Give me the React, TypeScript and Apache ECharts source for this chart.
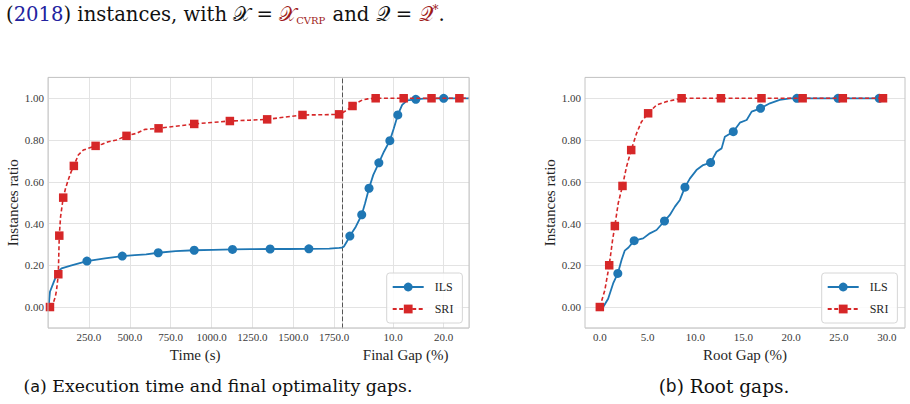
import React, { useEffect, useRef } from "react";
import * as echarts from "echarts";

// Each point: [x, ratio, marker?]  (marker = 1 draws the symbol at that point)

// Left panel, time segment (seconds)
const ilsTime: number[][] = [
  [4, 0.0], [8, 0.04], [12, 0.073], [32, 0.113], [52, 0.153], [62, 0.17], [83, 0.185],
  [144, 0.2], [238, 0.22, 1], [348, 0.233], [454, 0.244, 1], [531, 0.249], [600, 0.252],
  [674, 0.26, 1], [780, 0.268], [894, 0.272, 1], [1010, 0.274], [1128, 0.276, 1],
  [1240, 0.277], [1358, 0.278, 1], [1470, 0.278], [1595, 0.279, 1], [1720, 0.28],
  [1780, 0.283], [1800, 0.285],
];
const sriTime: number[][] = [
  [12, 0.0, 1], [32, 0.018], [45, 0.05], [52, 0.08], [58, 0.12], [63, 0.157, 1], [66, 0.25],
  [69, 0.342, 1], [77, 0.433], [93, 0.524, 1], [108, 0.57], [124, 0.61], [140, 0.645],
  [158, 0.676, 1], [185, 0.728], [216, 0.752], [291, 0.772, 1], [330, 0.78], [369, 0.792],
  [419, 0.8], [480, 0.82, 1], [541, 0.832], [592, 0.851], [676, 0.856, 1], [780, 0.866],
  [894, 0.877, 1], [1000, 0.884], [1112, 0.891, 1], [1230, 0.895], [1340, 0.899, 1],
  [1450, 0.91], [1556, 0.92, 1], [1680, 0.921], [1780, 0.923, 1], [1800, 0.93],
];

// Left panel, final gap segment (%)
const ilsFinal: number[][] = [
  [0, 0.285], [0.3, 0.29], [0.8, 0.31], [1.47, 0.34, 1], [2.65, 0.385], [3.82, 0.442, 1],
  [4.48, 0.497], [5.26, 0.569, 1], [6.1, 0.633], [7.2, 0.691, 1], [8.2, 0.744],
  [9.37, 0.797, 1], [10.16, 0.856], [10.94, 0.92, 1], [11.8, 0.968], [12.8, 0.99],
  [14.5, 0.995, 1], [16, 0.998], [20, 1.0, 1], [25, 1.0],
];
const sriFinal: number[][] = [
  [0, 0.93], [1.0, 0.945], [2.0, 0.963, 1], [3.0, 0.98], [3.96, 0.992], [5.0, 0.997],
  [6.57, 1.0, 1], [12.1, 1.0, 1], [17.6, 1.0, 1], [23.1, 1.0, 1], [25, 1.0],
];

// Right panel, root gap (%)
const ilsRoot: number[][] = [
  [0.35, 0.0], [0.87, 0.04], [1.39, 0.113], [1.88, 0.161, 1], [2.27, 0.225], [2.6, 0.27],
  [3.0, 0.285], [3.59, 0.318, 1], [4.53, 0.329], [5.23, 0.353], [5.93, 0.369],
  [6.76, 0.412, 1], [7.32, 0.441], [7.85, 0.481], [8.37, 0.513], [8.9, 0.574, 1],
  [9.41, 0.615], [10.1, 0.656], [10.8, 0.68], [11.58, 0.692, 1], [12.2, 0.744],
  [12.73, 0.76], [13.07, 0.816], [13.95, 0.84, 1], [14.64, 0.883], [15.35, 0.896],
  [15.87, 0.936], [16.8, 0.952, 1], [17.78, 0.976], [18.8, 0.992], [19.9, 1.0],
  [20.6, 1.0, 1], [24.9, 1.0, 1], [29.2, 1.0, 1], [29.8, 1.0],
];
const sriRoot: number[][] = [
  [0, 0.0, 1], [0.52, 0.08], [0.98, 0.2, 1], [1.33, 0.32], [1.57, 0.388, 1], [1.92, 0.497],
  [2.37, 0.58, 1], [2.79, 0.672], [3.28, 0.752, 1], [3.84, 0.832], [4.36, 0.888],
  [5.05, 0.928, 1], [5.93, 0.968], [6.97, 0.984], [8.55, 1.0, 1], [12.66, 1.0, 1],
  [16.9, 1.0, 1], [21.2, 1.0, 1], [25.4, 1.0, 1], [29.6, 1.0, 1], [29.8, 1.0],
];

const seriesNames = ["ILS", "SRI"];

const SERIF = "Liberation Serif";
const WIDE_SERIF = "DejaVu Serif";
const SANS = "DejaVu Sans";
const BLUE = "#1f77b4";
const RED = "#d62728";
const GRID_LINE = "#e3e3e3";
const FRAME = "#c4c4c4";
const TEXT = "#262626";

const toData = (pts: number[][]) =>
  pts.map(([x, y, m]) => (m ? [x, y] : { value: [x, y], symbol: "none" }));

const ilsStyle = (xi: number, yi: number, pts: number[][]) => ({
  name: "ILS",
  type: "line",
  xAxisIndex: xi,
  yAxisIndex: yi,
  data: toData(pts),
  symbol: "circle",
  symbolSize: 9,
  showSymbol: true,
  color: BLUE,
  itemStyle: { color: BLUE },
  lineStyle: { color: BLUE, width: 1.8 },
  silent: true,
  emphasis: { disabled: true },
  z: 2,
});

const sriStyle = (xi: number, yi: number, pts: number[][]) => ({
  name: "SRI",
  type: "line",
  xAxisIndex: xi,
  yAxisIndex: yi,
  data: toData(pts),
  symbol: "rect",
  symbolSize: 8.5,
  showSymbol: true,
  color: RED,
  itemStyle: { color: RED },
  lineStyle: { color: RED, width: 1.6, type: [4, 2.5] },
  silent: true,
  emphasis: { disabled: true },
  z: 3,
});

const tickLabel = {
  fontFamily: SERIF,
  fontSize: 11,
  fontWeight: "normal",
  color: "#3a3a3a",
};

const axisName = { fontFamily: SERIF, fontSize: 15, fontWeight: "normal", color: TEXT };

const ratioAxis = (gridIndex: number, withLabels: boolean) => ({
  type: "value",
  gridIndex,
  min: -0.1,
  max: 1.1,
  splitNumber: 6,
  axisTick: { show: false },
  axisLine: { show: false },
  splitLine: { show: true, lineStyle: { color: GRID_LINE, width: 1 } },
  axisLabel: {
    show: withLabels,
    ...tickLabel,
    margin: 4,
    showMinLabel: false,
    showMaxLabel: false,
    formatter: (v: number) =>
      Math.abs(Math.round(v * 5) - v * 5) < 1e-6 ? v.toFixed(2) : "",
  },
  name: withLabels ? "Instances ratio" : "",
  nameLocation: "middle",
  nameGap: 22,
  nameTextStyle: axisName,
});

const gapAxis = (gridIndex: number, name: string, extra: object) => ({
  type: "value",
  gridIndex,
  axisTick: { show: false },
  axisLine: { show: false },
  splitLine: { show: true, lineStyle: { color: GRID_LINE, width: 1 } },
  axisLabel: {
    ...tickLabel,
    margin: 4,
    showMinLabel: false,
    showMaxLabel: false,
    formatter: (v: number) => v.toFixed(1),
  },
  name,
  nameLocation: "middle",
  nameGap: 15,
  nameTextStyle: axisName,
  ...extra,
});

const legendFor = (left: number) => ({
  data: seriesNames,
  orient: "vertical",
  left,
  top: 273,
  itemWidth: 31,
  itemHeight: 11,
  itemGap: 10,
  padding: [8, 9, 8, 5],
  backgroundColor: "rgba(255,255,255,0.85)",
  borderColor: "#d6d6d6",
  borderWidth: 1,
  borderRadius: 3,
  selectedMode: false,
  textStyle: { fontFamily: SERIF, fontSize: 12, color: TEXT, padding: [0, 0, 0, 6] },
});

export default function App() {
  const ref = useRef<HTMLDivElement>(null);

  useEffect(() => {
    if (!ref.current) return;
    const chart = echarts.init(ref.current, null, { renderer: "svg" });

    const top = 77.4;
    const height = 250.5;

    chart.setOption({
      animation: false,
      backgroundColor: "#ffffff",
      textStyle: { fontFamily: SERIF, fontWeight: "normal" },
      grid: [
        // outer frame of the left panel
        { left: 48, top, width: 421, height, show: true, borderColor: FRAME, borderWidth: 1, backgroundColor: "transparent", z: 5 },
        // time segment
        { left: 48, top, width: 294.4, height },
        // final gap segment
        { left: 342.4, top, width: 126.6, height },
        // root gap panel
        { left: 585, top, width: 320, height, show: true, borderColor: FRAME, borderWidth: 1, backgroundColor: "transparent", z: 5 },
      ],
      xAxis: [
        { type: "value", gridIndex: 0, show: false, min: 0, max: 1 },
        gapAxis(1, "Time (s)", { min: 0, max: 1800, interval: 250 }),
        gapAxis(2, "Final Gap (%)", { min: 0, max: 25, interval: 10 }),
        gapAxis(3, "Root Gap (%)", { min: -1.55, max: 31.9, splitNumber: 7, splitLine: { show: false } }),
      ],
      yAxis: [
        { type: "value", gridIndex: 0, show: false, min: 0, max: 1 },
        ratioAxis(1, true),
        {
          ...ratioAxis(2, false),
          axisLine: { show: true, onZero: false, lineStyle: { color: "#555555", width: 1, type: [4, 3] } },
        },
        ratioAxis(3, true),
      ],
      legend: [legendFor(386.7), legendFor(821.7)],
      series: [
        ilsStyle(1, 1, ilsTime),
        ilsStyle(2, 2, ilsFinal),
        sriStyle(1, 1, sriTime),
        sriStyle(2, 2, sriFinal),
        ilsStyle(3, 3, ilsRoot),
        sriStyle(3, 3, sriRoot),
      ],
      graphic: [
        {
          type: "text",
          left: 6,
          top: 4,
          style: {
            text:
              "{k|(}{b|2018}{k|) instances, with }{s|𝒳}{k| = }{rs|𝒳}{sub|CVRP}{k| and }{s|𝒬}{k| = }{rs|𝒬}{sup|*}{k|.}",
            rich: {
              k: { fontFamily: WIDE_SERIF, fontSize: 19.6, fill: "#111111" },
              b: { fontFamily: WIDE_SERIF, fontSize: 19.6, fill: "#2323a0" },
              s: { fontFamily: WIDE_SERIF, fontSize: 19.6, fill: "#111111" },
              rs: { fontFamily: WIDE_SERIF, fontSize: 19.6, fill: "#9e1b1b" },
              sub: { fontFamily: WIDE_SERIF, fontSize: 10, fill: "#9e1b1b", padding: [12, 1, 0, 0] },
              sup: { fontFamily: WIDE_SERIF, fontSize: 12, fill: "#9e1b1b", padding: [0, 0, 8, 0] },
            },
          },
        },
        {
          type: "text",
          x: 218,
          y: 386,
          style: {
            text: "{k|(}{a|a}{k|) Execution time and final optimality gaps.}",
            align: "center",
            verticalAlign: "middle",
            rich: {
              k: { fontFamily: WIDE_SERIF, fontSize: 17.3, fill: "#111111" },
              a: { fontFamily: SANS, fontSize: 16, fill: "#111111" },
            },
          },
        },
        {
          type: "text",
          x: 724,
          y: 386,
          style: {
            text: "{k|(}{a|b}{k|) Root gaps.}",
            align: "center",
            verticalAlign: "middle",
            rich: {
              k: { fontFamily: WIDE_SERIF, fontSize: 18.5, fill: "#111111" },
              a: { fontFamily: SANS, fontSize: 17, fill: "#111111" },
            },
          },
        },
      ],
    });

    return () => chart.dispose();
  }, []);

  return (
    <div
      ref={ref}
      style={{ position: "fixed", left: 0, top: 0, width: 910, height: 404, background: "#ffffff" }}
    />
  );
}
